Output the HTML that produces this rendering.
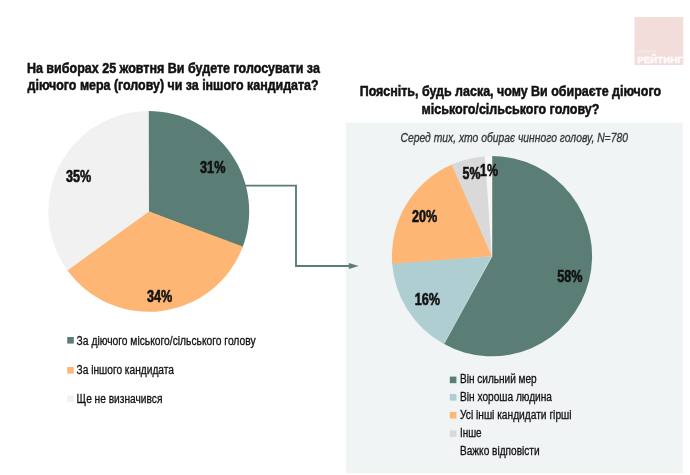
<!DOCTYPE html>
<html lang="uk">
<head>
<meta charset="utf-8">
<title>Рейтинг</title>
<style>
html,body{margin:0;padding:0;background:#fff;}
body{width:690px;height:475px;overflow:hidden;position:relative;font-family:"Liberation Sans",sans-serif;}
svg{display:block;position:absolute;left:0;top:0;}
text{font-family:"Liberation Sans",sans-serif;fill:#1a1a1a;}
.b{font-weight:bold;fill:#111;stroke:#111;stroke-width:0.6px;}
.i{font-style:italic;fill:#33363b;stroke:#33363b;stroke-width:0.3px;}
.t{font-weight:bold;fill:#111;stroke:#111;stroke-width:0.5px;}
.g{font-weight:bold;fill:#fff;fill-opacity:0.95;stroke:#fff;stroke-width:0.3px;stroke-opacity:0.9;}
.g2{font-weight:bold;fill:#fff;fill-opacity:0.45;}
.l{fill:#111;stroke:#111;stroke-width:0.3px;}
</style>
</head>
<body>
<svg width="690" height="475" viewBox="0 0 690 475">
<rect x="0" y="0" width="690" height="475" fill="#ffffff"/>
<!-- right panel -->
<rect x="345.9" y="122.6" width="336.8" height="350.5" fill="#f0f4f5"/>
<!-- logo -->
<rect x="634.5" y="17" width="48.8" height="48" fill="#f3dddb"/>
<text x="637.6" y="53.4" font-size="3.2" textLength="18.5" lengthAdjust="spacingAndGlyphs" class="g2">СОЦІОЛОГІЧНА ГРУПА</text>
<text x="637.3" y="62.7" font-size="8.2" textLength="45.4" lengthAdjust="spacingAndGlyphs" class="g">РЕЙТИНГ</text>
<!-- titles -->
<text x="26.9" y="73.1" font-size="14" textLength="293" lengthAdjust="spacingAndGlyphs" class="t">На виборах 25 жовтня Ви будете голосувати за</text>
<text x="27.6" y="90.1" font-size="14" textLength="291" lengthAdjust="spacingAndGlyphs" class="t">діючого мера (голову) чи за іншого кандидата?</text>
<text x="359.7" y="95.6" font-size="14" textLength="301.4" lengthAdjust="spacingAndGlyphs" class="t">Поясніть, будь ласка, чому Ви обираєте діючого</text>
<text x="421.6" y="113.9" font-size="14" textLength="177.8" lengthAdjust="spacingAndGlyphs" class="t">міського/сільського голову?</text>
<text x="400.5" y="142.4" font-size="12.3" textLength="227.4" lengthAdjust="spacingAndGlyphs" class="i">Серед тих, хто обирає чинного голову, N=780</text>
<!-- connector -->
<path d="M243 185.6H296V266H350" fill="none" stroke="#5a7e75" stroke-width="1.9"/>
<path d="M348.8 263L358.8 266L348.8 269Z" fill="#5a7e75"/>
<!-- left pie -->
<path d="M148.80 211.40L147.92 111.00A100.4 100.4 0 0 1 242.52 247.41Z" fill="#5a7e75"/>
<path d="M148.80 211.40L242.83 246.59A100.4 100.4 0 0 1 67.06 269.70Z" fill="#fdb674"/>
<path d="M148.80 211.40L67.57 270.41A100.4 100.4 0 0 1 148.80 111.00Z" fill="#f1f1f1"/>
<!-- right pie -->
<path d="M492.00 256.20L491.13 156.10A100.1 100.1 0 1 1 443.17 343.58Z" fill="#5a7e75"/>
<path d="M492.00 256.20L443.93 344.00A100.1 100.1 0 0 1 392.12 262.83Z" fill="#afced2"/>
<path d="M492.00 256.20L392.18 263.71A100.1 100.1 0 0 1 452.41 164.26Z" fill="#fdb674"/>
<path d="M492.00 256.20L451.61 164.61A100.1 100.1 0 0 1 485.71 156.30Z" fill="#d9d9d9"/>
<path d="M492.00 256.20L484.84 156.36A100.1 100.1 0 0 1 492.00 156.10Z" fill="#f6f6f6"/>
<path d="M492 156.1L492 256.2L443.93 344.00" fill="none" stroke="#ffffff" stroke-opacity="0.55" stroke-width="0.8"/>
<!-- labels -->
<text x="65.9" y="181.5" font-size="15.9" textLength="25.3" lengthAdjust="spacingAndGlyphs" class="b">35%</text>
<text x="200.1" y="173.3" font-size="15.9" textLength="25.3" lengthAdjust="spacingAndGlyphs" class="b">31%</text>
<text x="147.0" y="302.4" font-size="15.9" textLength="25.3" lengthAdjust="spacingAndGlyphs" class="b">34%</text>
<text x="462.5" y="179.1" font-size="15.9" textLength="17.9" lengthAdjust="spacingAndGlyphs" class="b">5%</text>
<text x="480.0" y="176.2" font-size="15.9" textLength="17.9" lengthAdjust="spacingAndGlyphs" class="b">1%</text>
<text x="411.9" y="222.2" font-size="15.9" textLength="25.3" lengthAdjust="spacingAndGlyphs" class="b">20%</text>
<text x="557.3" y="282.2" font-size="15.9" textLength="25.3" lengthAdjust="spacingAndGlyphs" class="b">58%</text>
<text x="414.8" y="304.8" font-size="15.9" textLength="25.3" lengthAdjust="spacingAndGlyphs" class="b">16%</text>
<!-- left legend -->
<rect x="67.2" y="337" width="6.6" height="6.6" fill="#5a7e75"/>
<rect x="67.2" y="367" width="6.6" height="6.6" fill="#fdb674"/>
<rect x="67.2" y="395.5" width="6.6" height="6.6" fill="#f1f1f1"/>
<text x="76.6" y="344.7" font-size="12" textLength="179" lengthAdjust="spacingAndGlyphs" class="l">За діючого міського/сільського голову</text>
<text x="76.6" y="374.1" font-size="12" textLength="97.4" lengthAdjust="spacingAndGlyphs" class="l">За іншого кандидата</text>
<text x="76.6" y="402.9" font-size="12" textLength="85.8" lengthAdjust="spacingAndGlyphs" class="l">Ще не визначився</text>
<!-- right legend -->
<rect x="449.8" y="376.6" width="6.6" height="6.6" fill="#5a7e75"/>
<rect x="449.8" y="394" width="6.6" height="6.6" fill="#afced2"/>
<rect x="449.8" y="411.9" width="6.6" height="6.6" fill="#fdb674"/>
<rect x="449.8" y="430.3" width="6.6" height="6.6" fill="#d9d9d9"/>
<rect x="449.8" y="448.2" width="6.6" height="6.6" fill="#f3f4f4"/>
<text x="460" y="383.3" font-size="12" textLength="76.7" lengthAdjust="spacingAndGlyphs" class="l">Він сильний мер</text>
<text x="460" y="401.3" font-size="12" textLength="92" lengthAdjust="spacingAndGlyphs" class="l">Він хороша людина</text>
<text x="460" y="419.3" font-size="12" textLength="111.5" lengthAdjust="spacingAndGlyphs" class="l">Усі інші кандидати гірші</text>
<text x="460" y="437.4" font-size="12" textLength="21.6" lengthAdjust="spacingAndGlyphs" class="l">Інше</text>
<text x="460" y="455.1" font-size="12" textLength="79.6" lengthAdjust="spacingAndGlyphs" class="l">Важко відповісти</text>
</svg>
</body>
</html>
